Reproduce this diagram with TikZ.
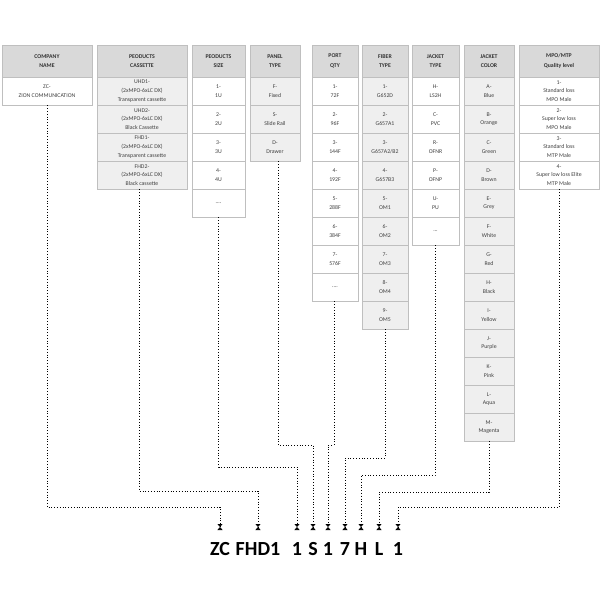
\documentclass[tikz,border=0pt]{standalone}
\usepackage{fontspec}
\setmainfont{Carlito}
\usetikzlibrary{arrows.meta}
\definecolor{hd}{HTML}{D9D9D9}
\definecolor{gr}{HTML}{EFEFEF}
\definecolor{bd}{HTML}{BFBFBF}
\newcommand{\fourdots}{....}
\newcommand{\threedots}{...}
\tikzset{
 cell/.style={draw=bd,line width=0.8pt,minimum height=28pt,inner sep=0pt,align=center,font=\fontsize{5.8}{8.7}\selectfont,text=black!75},
 head/.style={cell,fill=hd,minimum height=32pt,font=\bfseries\fontsize{5.8}{9.5}\selectfont,text=black!80},
 link/.style={dotted,line width=0.8pt,-{Triangle[length=3pt,width=5pt]Triangle[reversed,length=3pt,width=5pt]}},
 code/.style={font=\bfseries\fontsize{20}{20}\selectfont,anchor=base,inner sep=0pt}
}
\newcommand{\mkcol}[6]{%
 \node[head,minimum width=#3pt] (#1h) at (#2,61) {#4};
 \foreach \t [count=\i] in {#6}{
  \node[cell,fill=#5,minimum width=#3pt] (#1\i) at (#2,77+28*\i-14) {\t};
 }}
\begin{document}
\begin{tikzpicture}[x=1pt,y=-1pt]
\useasboundingbox (0,0) rectangle (600,600);
\mkcol{a}{47}{90}{COMPANY\\NAME}{white}{{ZC-\\ZION COMMUNICATION}}
\mkcol{b}{142}{90}{PEODUCTS\\CASSETTE}{gr}{{UHD1-\\(2xMPO-6xLC DX)\\Transparent cassette},{UHD2-\\(2xMPO-6xLC DX)\\Black Cassette},{FHD1-\\(2xMPO-6xLC DX)\\Transparent cassette},{FHD2-\\(2xMPO-6xLC DX)\\Black cassette}}
\mkcol{c}{218.5}{53}{PEODUCTS\\SIZE}{white}{{1-\\1U},{2-\\2U},{3-\\3U},{4-\\4U},{\fourdots}}
\mkcol{d}{275}{50}{PANEL\\TYPE}{gr}{{F-\\Fixed},{S-\\Slide Rail},{D-\\Drawer}}
\mkcol{e}{335}{46}{PORT\\QTY}{white}{{1-\\72F},{2-\\96F},{3-\\144F},{4-\\192F},{5-\\288F},{6-\\384F},{7-\\576F},{\fourdots}}
\mkcol{f}{385}{46}{FIBER\\TYPE}{gr}{{1-\\G652D},{2-\\G657A1},{3-\\G657A2/B2},{4-\\G657B3},{5-\\OM1},{6-\\OM2},{7-\\OM3},{8-\\OM4},{9-\\OM5}}
\mkcol{g}{435.5}{47}{JACKET\\TYPE}{white}{{H-\\LS2H},{C-\\PVC},{R-\\OFNR},{P-\\OFNP},{U-\\PU},{\threedots}}
\mkcol{h}{489}{50}{JACKET\\COLOR}{gr}{{A-\\Blue},{B-\\Orange},{C-\\Green},{D-\\Brown},{E-\\Grey},{F-\\White},{G-\\Red},{H-\\Black},{I-\\Yellow},{J-\\Purple},{K-\\Pink},{L-\\Aqua},{M-\\Magenta}}
\mkcol{i}{559}{80}{MPO/MTP\\Quality level}{white}{{1-\\Standard loss\\MPO Male},{2-\\Super low loss\\MPO Male},{3-\\Standard loss\\MTP Male},{4-\\Super low loss Elite\\MTP Male}}
% codes
\node[code] (k1) at (220,555) {ZC};
\node[code] (k2) at (258,555) {FHD1};
\node[code] (k3) at (297,555) {1};
\node[code] (k4) at (313,555) {S};
\node[code] (k5) at (328,555) {1};
\node[code] (k6) at (345,555) {7};
\node[code] (k7) at (361,555) {H};
\node[code] (k8) at (379,555) {L};
\node[code] (k9) at (398,555) {1};
\foreach \k in {1,...,9}{\coordinate (t\k) at (k\k.center |- 0,530);}
\draw[link] (a1.south) |- (220,507) -- (t1);
\draw[link] (b4.south -| 139,0) |- (258,491) -- (t2);
\draw[link] (c5.south) |- (297,467) -- (t3);
\draw[link] (d3.south -| 278,0) |- (313,445) -- (t4);
\draw[link] (e8.south -| 334,0) |- (328,445) -- (t5);
\draw[link] (f9.south) |- (345,458) -- (t6);
\draw[link] (g6.south) |- (361,475) -- (t7);
\draw[link] (h13.south) |- (379,492) -- (t8);
\draw[link] (i4.south) |- (398,507) -- (t9);
\end{tikzpicture}
\end{document}
